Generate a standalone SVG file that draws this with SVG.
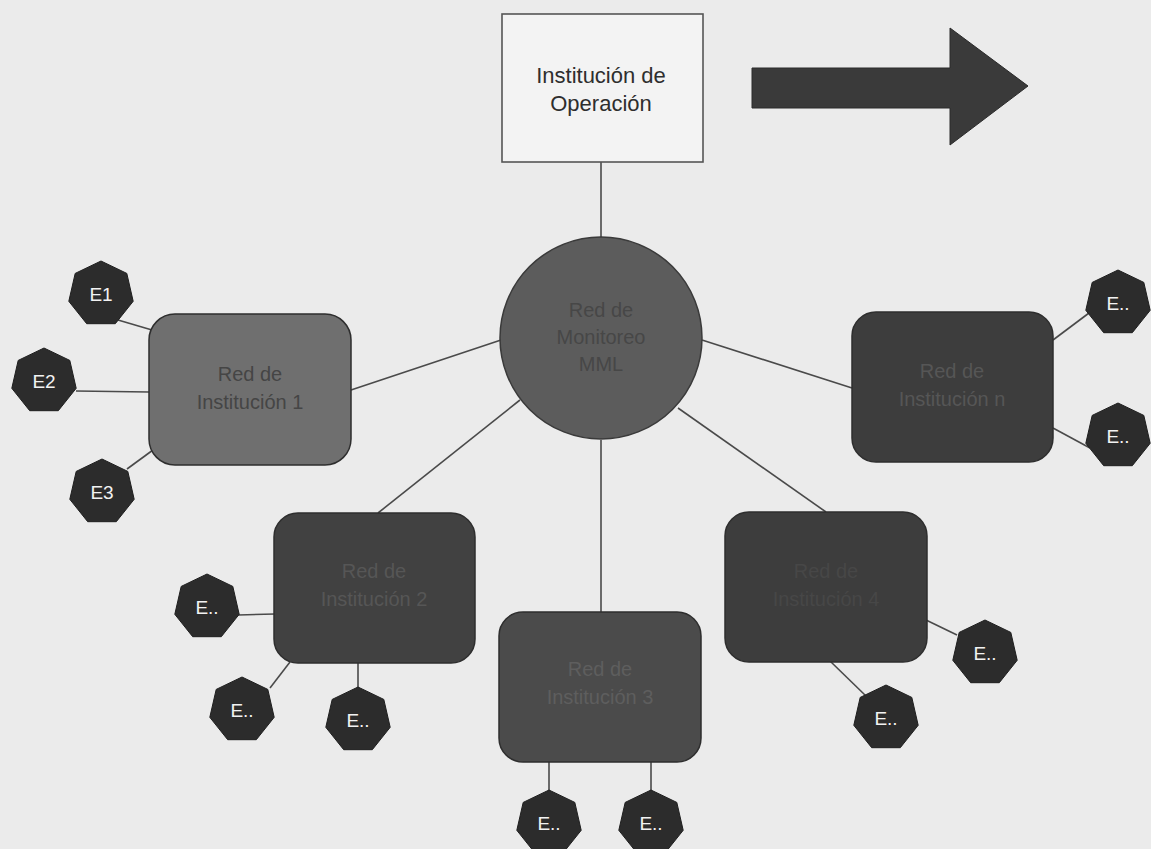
<svg xmlns="http://www.w3.org/2000/svg" xmlns:xlink="http://www.w3.org/1999/xlink" width="1151" height="849" viewBox="0 0 1151 849">
  <style>
    .link { stroke: #4a4a4a; stroke-width: 1.6; fill: none; }
    .net { stroke: #2e2e2e; stroke-width: 1.5; }
    .lbl { font-family: "Liberation Sans", Arial, sans-serif; font-size: 20px; text-anchor: middle; }
    .box { font-family: "Liberation Sans", Arial, sans-serif; font-size: 22px; text-anchor: middle; fill: #2e2e2e; }
    .dark { fill: #565656; }
    .ep { fill: #2c2c2c; stroke: #1e1e1e; stroke-width: 1; }
    .eplbl { font-family: "Liberation Sans", Arial, sans-serif; font-size: 19px; fill: #f2f2f2; text-anchor: middle; }
  </style>
  <defs>
    <!-- seven-sided endpoint marker, centred on the origin -->
    <polygon id="hept" class="ep" points="0,-33 25.8,-20.6 32.2,7.3 14.3,29.7 -14.3,29.7 -32.2,7.3 -25.8,-20.6"/>
  </defs>

  <rect width="1151" height="849" fill="#ebebeb"/>

  <g id="connectors">
    <line class="link" x1="601" y1="162" x2="601" y2="238"/>
    <line class="link" x1="501" y1="340" x2="351" y2="390"/>
    <line class="link" x1="702" y1="340" x2="852" y2="388"/>
    <line class="link" x1="520" y1="400" x2="378" y2="513"/>
    <line class="link" x1="601" y1="440" x2="601" y2="612"/>
    <line class="link" x1="678" y1="408" x2="826" y2="512"/>
    <!-- endpoints of institution 1 -->
    <line class="link" x1="118" y1="320" x2="152" y2="330"/>
    <line class="link" x1="76" y1="391" x2="149" y2="392"/>
    <line class="link" x1="127" y1="469" x2="153" y2="450"/>
    <!-- endpoints of institution n -->
    <line class="link" x1="1053" y1="340" x2="1093" y2="310"/>
    <line class="link" x1="1053" y1="428" x2="1090" y2="448"/>
    <!-- endpoints of institution 2 -->
    <line class="link" x1="238" y1="615" x2="275" y2="614"/>
    <line class="link" x1="270" y1="688" x2="290" y2="662"/>
    <line class="link" x1="358" y1="663" x2="358" y2="690"/>
    <!-- endpoints of institution 3 -->
    <line class="link" x1="549" y1="762" x2="549" y2="792"/>
    <line class="link" x1="651" y1="762" x2="651" y2="792"/>
    <!-- endpoints of institution 4 -->
    <line class="link" x1="926" y1="620" x2="957" y2="635"/>
    <line class="link" x1="830" y1="661" x2="866" y2="696"/>
  </g>

  <g id="operacion">
    <rect x="502" y="14" width="201" height="148" fill="#f3f3f3" stroke="#555" stroke-width="1.6"/>
    <text class="box" x="601" y="83">Institución de</text>
    <text class="box" x="601" y="111">Operación</text>
  </g>

  <g id="flecha">
    <polygon points="752,68 950,68 950,28 1028,86 950,145 950,108 752,108" fill="#3a3a3a" stroke="#2a2a2a" stroke-width="1"/>
  </g>

  <g id="monitoreo">
    <circle cx="601" cy="338" r="101" fill="#5c5c5c" stroke="#3a3a3a" stroke-width="1.5"/>
    <text class="lbl" x="601" y="317" fill="#474747">Red de</text>
    <text class="lbl" x="601" y="344" fill="#474747">Monitoreo</text>
    <text class="lbl" x="601" y="371" fill="#474747">MML</text>
  </g>

  <g id="inst1">
    <rect class="net" x="149" y="314" width="202" height="151" rx="26" fill="#6f6f6f"/>
    <text class="lbl" x="250" y="381" fill="#454545">Red de</text>
    <text class="lbl" x="250" y="409" fill="#454545">Institución 1</text>
  </g>

  <g id="instn">
    <rect class="net" x="852" y="312" width="201" height="150" rx="24" fill="#3d3d3d"/>
    <text class="lbl dark" x="952" y="378">Red de</text>
    <text class="lbl dark" x="952" y="406">Institución n</text>
  </g>

  <g id="inst2">
    <rect class="net" x="274" y="513" width="201" height="150" rx="24" fill="#414141"/>
    <text class="lbl dark" x="374" y="578">Red de</text>
    <text class="lbl dark" x="374" y="606">Institución 2</text>
  </g>

  <g id="inst3">
    <rect class="net" x="499" y="612" width="202" height="150" rx="24" fill="#4b4b4b"/>
    <text class="lbl" x="600" y="676" fill="#5e5e5e">Red de</text>
    <text class="lbl" x="600" y="704" fill="#5e5e5e">Institución 3</text>
  </g>

  <g id="inst4">
    <rect class="net" x="725" y="512" width="202" height="150" rx="24" fill="#3d3d3d"/>
    <text class="lbl" x="826" y="578" fill="#474747">Red de</text>
    <text class="lbl" x="826" y="606" fill="#474747">Institución 4</text>
  </g>

  <g id="e1"><use xlink:href="#hept" x="101" y="294"/><text class="eplbl" x="101" y="301">E1</text></g>
  <g id="e2"><use xlink:href="#hept" x="44" y="381"/><text class="eplbl" x="44" y="388">E2</text></g>
  <g id="e3"><use xlink:href="#hept" x="102" y="492"/><text class="eplbl" x="102" y="499">E3</text></g>

  <g id="en-a"><use xlink:href="#hept" x="1118" y="303"/><text class="eplbl" x="1118" y="310">E..</text></g>
  <g id="en-b"><use xlink:href="#hept" x="1118" y="436"/><text class="eplbl" x="1118" y="443">E..</text></g>

  <g id="e2-a"><use xlink:href="#hept" x="207" y="607"/><text class="eplbl" x="207" y="614">E..</text></g>
  <g id="e2-b"><use xlink:href="#hept" x="242" y="710"/><text class="eplbl" x="242" y="717">E..</text></g>
  <g id="e2-c"><use xlink:href="#hept" x="358" y="720"/><text class="eplbl" x="358" y="727">E..</text></g>

  <g id="e3-a"><use xlink:href="#hept" x="549" y="823"/><text class="eplbl" x="549" y="830">E..</text></g>
  <g id="e3-b"><use xlink:href="#hept" x="651" y="823"/><text class="eplbl" x="651" y="830">E..</text></g>

  <g id="e4-a"><use xlink:href="#hept" x="985" y="653"/><text class="eplbl" x="985" y="660">E..</text></g>
  <g id="e4-b"><use xlink:href="#hept" x="886" y="718"/><text class="eplbl" x="886" y="725">E..</text></g>
</svg>
